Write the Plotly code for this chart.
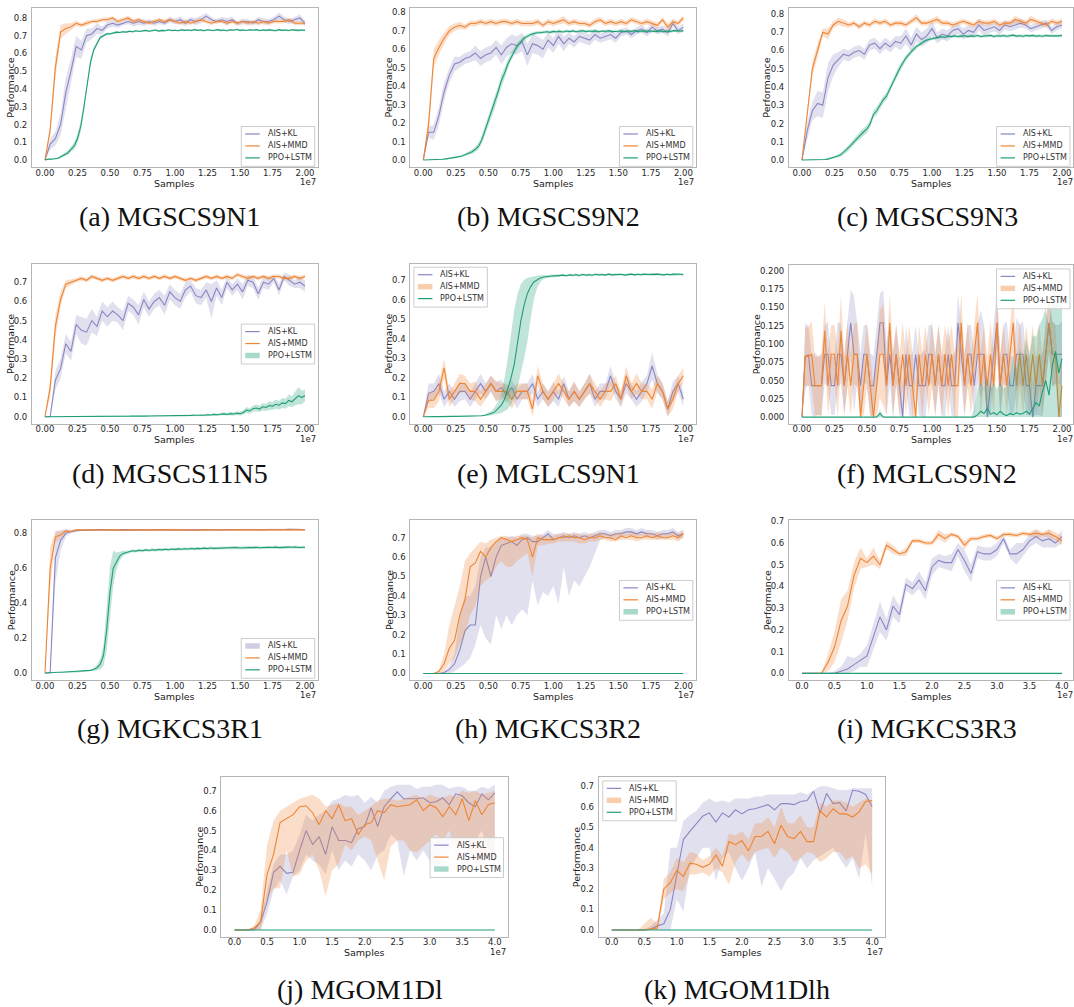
import plotly.graph_objects as go

W, H = 1074, 1007

# ---------------- sample grids ----------------
X20 = [i * 4e5 for i in range(51)]      # AIS runs, 0 .. 2e7
X20P = [i * 2.5e5 for i in range(81)]   # PPO runs, 0 .. 2e7
X20Z = [i * 5e5 for i in range(41)]
X40 = [i * 1e6 for i in range(41)]      # 0 .. 4e7

SERIES_NAMES = {"kl": "AIS+KL", "mmd": "AIS+MMD", "ppo": "PPO+LSTM"}
X20_TICKVALS = [0, 2.5e6, 5e6, 7.5e6, 1e7, 1.25e7, 1.5e7, 1.75e7, 2e7]
X20_TICKTEXT = ["0.00", "0.25", "0.50", "0.75", "1.00", "1.25", "1.50", "1.75", "2.00"]
X40_TICKVALS = [0, 5e6, 1e7, 1.5e7, 2e7, 2.5e7, 3e7, 3.5e7, 4e7]
X40_TICKTEXT = ["0.0", "0.5", "1.0", "1.5", "2.0", "2.5", "3.0", "3.5", "4.0"]
CAPTIONS = ["(a) MGSCS9N1", "(b) MGSCS9N2", "(c) MGSCS9N3", "(d) MGSCS11N5", "(e) MGLCS9N1",
            "(f) MGLCS9N2", "(g) MGKCS3R1", "(h) MGKCS3R2", "(i) MGKCS3R3", "(j) MGOM1Dl", "(k) MGOM1Dlh"]

# ---------------- (a) MGSCS9N1 ----------------
A_KL = [0.00,0.09,0.12,0.20,0.38,0.50,0.64,0.62,0.70,0.71,
        0.74,0.73,0.76,0.77,0.76,0.77,0.78,0.77,0.78,0.77,
        0.78,0.77,0.78,0.77,0.79,0.78,0.79,0.77,0.79,0.78,
        0.79,0.81,0.79,0.78,0.79,0.78,0.79,0.77,0.78,0.78,
        0.77,0.79,0.78,0.78,0.79,0.81,0.79,0.78,0.79,0.80,
        0.77]
A_KL_SD = [0.00,0.03,0.04,0.06,0.08,0.07,0.06,0.05,0.04,0.03,
           0.03,0.02,0.02,0.02,0.015,0.012,0.015,0.018,0.02,0.015,
           0.012,0.015,0.014,0.012,0.016,0.015,0.02,0.018,0.015,0.02,
           0.022,0.018,0.015,0.012,0.015,0.02,0.015,0.012,0.016,0.014,
           0.012,0.015,0.018,0.014,0.015,0.02,0.016,0.014,0.015,0.02,
           0.015]
A_MMD = [0.00,0.17,0.52,0.72,0.74,0.75,0.77,0.76,0.77,0.78,
         0.78,0.79,0.79,0.80,0.78,0.79,0.80,0.78,0.79,0.78,
         0.77,0.78,0.79,0.78,0.79,0.78,0.77,0.78,0.77,0.78,
         0.79,0.78,0.77,0.78,0.78,0.77,0.78,0.77,0.78,0.77,
         0.78,0.77,0.78,0.77,0.78,0.78,0.78,0.79,0.77,0.77,
         0.77]
A_MMD_SD = [0.00,0.03,0.06,0.04,0.03,0.02,0.015,0.012,0.015,0.01,
            0.012,0.01,0.012,0.01,0.012,0.01,0.012,0.015,0.01,0.012,
            0.01,0.012,0.01,0.012,0.01,0.012,0.01,0.012,0.01,0.012,
            0.01,0.012,0.01,0.012,0.01,0.012,0.01,0.012,0.01,0.012,
            0.01,0.012,0.01,0.012,0.01,0.012,0.01,0.012,0.01,0.012,
            0.01]
A_PPO = [0.000,0.005,0.005,0.008,0.010,0.020,0.030,0.040,0.060,0.080,
         0.120,0.190,0.300,0.440,0.550,0.620,0.660,0.690,0.700,0.710,
         0.710,0.715,0.720,0.718,0.722,0.720,0.725,0.722,0.728,0.724,
         0.726,0.730,0.725,0.728,0.732,0.726,0.730,0.728,0.733,0.729,
         0.731,0.728,0.733,0.730,0.732,0.729,0.734,0.730,0.732,0.728,
         0.733,0.731,0.729,0.734,0.730,0.732,0.728,0.733,0.731,0.735,
         0.730,0.732,0.729,0.733,0.731,0.734,0.729,0.732,0.730,0.733,
         0.731,0.728,0.734,0.730,0.732,0.729,0.733,0.731,0.730,0.732,
         0.730]
A_PPO_SD = [0.000,0.002,0.003,0.004,0.005,0.008,0.010,0.012,0.015,0.020,
            0.025,0.030,0.030,0.025,0.020,0.015,0.012,0.010,0.008,0.006,
            0.006,0.005,0.006,0.005,0.006,0.005,0.005,0.006,0.005,0.005,
            0.006,0.005,0.005,0.006,0.005,0.005,0.006,0.005,0.005,0.006,
            0.005,0.005,0.006,0.005,0.005,0.006,0.005,0.005,0.006,0.005,
            0.005,0.006,0.005,0.005,0.006,0.005,0.005,0.006,0.005,0.005,
            0.006,0.005,0.005,0.006,0.005,0.005,0.006,0.005,0.005,0.006,
            0.005,0.005,0.006,0.005,0.005,0.006,0.005,0.005,0.006,0.005,
            0.005]

# ---------------- (b) MGSCS9N2 ----------------
B_KL = [0.00,0.15,0.15,0.24,0.37,0.46,0.52,0.53,0.55,0.56,
        0.58,0.55,0.57,0.58,0.61,0.57,0.61,0.63,0.62,0.64,
        0.57,0.63,0.62,0.60,0.65,0.62,0.67,0.63,0.66,0.64,
        0.67,0.66,0.65,0.68,0.66,0.67,0.68,0.66,0.69,0.70,
        0.68,0.70,0.71,0.69,0.72,0.70,0.71,0.69,0.74,0.70,
        0.72]
B_KL_SD = [0.00,0.03,0.04,0.05,0.05,0.04,0.04,0.03,0.03,0.03,
           0.04,0.04,0.04,0.04,0.04,0.05,0.05,0.05,0.05,0.05,
           0.06,0.05,0.05,0.05,0.04,0.04,0.04,0.04,0.03,0.03,
           0.03,0.03,0.03,0.03,0.025,0.025,0.025,0.025,0.02,0.02,
           0.02,0.02,0.02,0.02,0.02,0.02,0.02,0.02,0.02,0.02,
           0.02]
B_MMD = [0.00,0.19,0.55,0.61,0.66,0.70,0.72,0.73,0.72,0.74,
         0.74,0.75,0.74,0.75,0.74,0.75,0.75,0.74,0.75,0.74,
         0.74,0.74,0.75,0.73,0.75,0.74,0.75,0.76,0.74,0.75,
         0.74,0.74,0.73,0.75,0.76,0.74,0.75,0.74,0.75,0.74,
         0.76,0.75,0.74,0.75,0.74,0.73,0.76,0.72,0.75,0.74,
         0.77]
B_MMD_SD = [0.00,0.05,0.05,0.04,0.03,0.025,0.02,0.02,0.015,0.015,
            0.015,0.015,0.015,0.015,0.015,0.015,0.015,0.015,0.015,0.015,
            0.015,0.015,0.015,0.015,0.015,0.015,0.015,0.02,0.015,0.015,
            0.015,0.015,0.015,0.015,0.015,0.015,0.015,0.015,0.015,0.015,
            0.015,0.015,0.015,0.015,0.015,0.015,0.015,0.02,0.015,0.015,
            0.015]
B_PPO = [0.000,0.000,0.000,0.001,0.002,0.003,0.004,0.006,0.008,0.010,
         0.013,0.018,0.022,0.030,0.038,0.045,0.058,0.075,0.110,0.160,
         0.210,0.260,0.310,0.370,0.430,0.470,0.520,0.560,0.590,0.620,
         0.640,0.660,0.670,0.680,0.685,0.690,0.690,0.693,0.695,0.692,
         0.697,0.695,0.698,0.694,0.699,0.696,0.700,0.695,0.698,0.701,
         0.696,0.699,0.697,0.700,0.695,0.699,0.697,0.701,0.696,0.699,
         0.698,0.700,0.695,0.699,0.697,0.701,0.696,0.699,0.698,0.700,
         0.696,0.699,0.697,0.700,0.695,0.699,0.697,0.701,0.698,0.699,
         0.700]
B_PPO_SD = [0.000,0.000,0.000,0.001,0.001,0.002,0.002,0.003,0.003,0.004,
            0.004,0.005,0.006,0.008,0.010,0.012,0.015,0.018,0.022,0.025,
            0.028,0.030,0.030,0.030,0.030,0.028,0.025,0.022,0.020,0.018,
            0.016,0.014,0.012,0.010,0.010,0.008,0.008,0.008,0.008,0.008,
            0.008,0.007,0.008,0.007,0.008,0.007,0.008,0.007,0.008,0.007,
            0.008,0.007,0.008,0.007,0.008,0.007,0.008,0.007,0.008,0.007,
            0.008,0.007,0.008,0.007,0.008,0.007,0.008,0.007,0.008,0.007,
            0.008,0.007,0.008,0.007,0.008,0.007,0.008,0.007,0.008,0.007,
            0.008]

# ---------------- (c) MGSCS9N3 ----------------
C_KL = [0.00,0.16,0.27,0.31,0.30,0.45,0.52,0.55,0.58,0.57,
        0.59,0.60,0.58,0.63,0.64,0.61,0.64,0.62,0.65,0.64,
        0.68,0.63,0.69,0.66,0.68,0.72,0.67,0.69,0.68,0.71,
        0.72,0.69,0.71,0.70,0.74,0.71,0.72,0.73,0.71,0.74,
        0.73,0.74,0.75,0.74,0.72,0.73,0.74,0.75,0.71,0.73,
        0.74]
C_KL_SD = [0.00,0.05,0.05,0.07,0.07,0.08,0.06,0.04,0.03,0.03,
           0.03,0.03,0.03,0.03,0.03,0.03,0.03,0.03,0.03,0.04,
           0.04,0.04,0.04,0.04,0.04,0.04,0.03,0.03,0.03,0.03,
           0.03,0.03,0.03,0.03,0.03,0.03,0.025,0.025,0.025,0.025,
           0.025,0.025,0.025,0.02,0.02,0.02,0.02,0.02,0.02,0.02,
           0.02]
C_MMD = [0.00,0.26,0.50,0.60,0.70,0.69,0.74,0.76,0.75,0.74,
         0.75,0.73,0.75,0.74,0.76,0.75,0.76,0.74,0.75,0.75,
         0.74,0.76,0.78,0.75,0.75,0.76,0.77,0.75,0.75,0.74,
         0.75,0.76,0.75,0.74,0.76,0.75,0.75,0.76,0.74,0.75,
         0.75,0.77,0.76,0.75,0.77,0.76,0.75,0.74,0.76,0.75,
         0.76]
C_MMD_SD = [0.00,0.03,0.04,0.04,0.02,0.03,0.02,0.02,0.02,0.015,
            0.015,0.015,0.015,0.015,0.015,0.015,0.015,0.015,0.015,0.015,
            0.015,0.015,0.02,0.015,0.015,0.015,0.02,0.015,0.015,0.015,
            0.015,0.015,0.015,0.015,0.015,0.015,0.015,0.015,0.015,0.015,
            0.015,0.02,0.015,0.015,0.02,0.015,0.015,0.015,0.015,0.015,
            0.015]
C_PPO = [0.000,0.000,0.000,0.000,0.000,0.001,0.002,0.003,0.005,0.010,
         0.015,0.022,0.030,0.045,0.060,0.080,0.100,0.120,0.140,0.155,
         0.170,0.200,0.250,0.270,0.300,0.330,0.350,0.390,0.430,0.460,
         0.500,0.530,0.560,0.580,0.600,0.620,0.630,0.645,0.655,0.660,
         0.665,0.668,0.672,0.675,0.673,0.678,0.676,0.680,0.677,0.679,
         0.681,0.676,0.680,0.678,0.682,0.677,0.680,0.679,0.683,0.677,
         0.681,0.679,0.682,0.678,0.680,0.684,0.679,0.681,0.678,0.682,
         0.680,0.683,0.679,0.681,0.678,0.682,0.680,0.679,0.681,0.680,
         0.682]
C_PPO_SD = [0.000,0.000,0.000,0.000,0.000,0.001,0.002,0.003,0.004,0.005,
            0.006,0.008,0.010,0.012,0.014,0.015,0.016,0.018,0.018,0.020,
            0.020,0.020,0.020,0.020,0.020,0.020,0.020,0.020,0.020,0.020,
            0.020,0.018,0.016,0.014,0.012,0.012,0.010,0.010,0.010,0.010,
            0.008,0.008,0.008,0.008,0.008,0.008,0.008,0.008,0.008,0.008,
            0.008,0.008,0.008,0.008,0.008,0.008,0.008,0.008,0.008,0.008,
            0.008,0.008,0.008,0.008,0.008,0.008,0.008,0.008,0.008,0.008,
            0.008,0.008,0.008,0.008,0.008,0.008,0.008,0.008,0.008,0.008,
            0.008]

# ---------------- (d) MGSCS11N5 ----------------
D_KL = [0.00,0.00,0.19,0.25,0.38,0.34,0.48,0.45,0.44,0.50,
        0.47,0.55,0.52,0.55,0.53,0.50,0.59,0.57,0.53,0.61,
        0.56,0.60,0.62,0.58,0.65,0.62,0.60,0.66,0.68,0.63,
        0.62,0.66,0.60,0.67,0.62,0.70,0.66,0.69,0.65,0.71,
        0.70,0.64,0.70,0.69,0.72,0.66,0.73,0.71,0.69,0.70,
        0.68]
D_KL_SD = [0.00,0.00,0.05,0.05,0.05,0.05,0.05,0.07,0.07,0.06,
           0.05,0.05,0.05,0.05,0.04,0.05,0.04,0.04,0.05,0.04,
           0.04,0.04,0.04,0.05,0.04,0.04,0.04,0.04,0.03,0.04,
           0.04,0.04,0.09,0.04,0.04,0.03,0.03,0.03,0.04,0.03,
           0.03,0.03,0.03,0.03,0.02,0.03,0.02,0.03,0.02,0.03,
           0.03]
D_MMD = [0.00,0.15,0.47,0.61,0.69,0.70,0.71,0.72,0.71,0.73,
         0.72,0.71,0.72,0.71,0.72,0.73,0.72,0.73,0.72,0.73,
         0.72,0.73,0.72,0.73,0.72,0.73,0.72,0.71,0.72,0.71,
         0.72,0.73,0.72,0.73,0.72,0.73,0.72,0.74,0.73,0.72,
         0.73,0.72,0.73,0.72,0.73,0.73,0.72,0.72,0.73,0.72,
         0.73]
D_MMD_SD = [0.00,0.05,0.06,0.04,0.02,0.015,0.01,0.012,0.01,0.012,
            0.01,0.012,0.01,0.012,0.01,0.012,0.01,0.012,0.01,0.012,
            0.01,0.012,0.01,0.012,0.01,0.012,0.01,0.012,0.01,0.012,
            0.01,0.012,0.01,0.012,0.01,0.012,0.01,0.012,0.01,0.012,
            0.01,0.012,0.01,0.012,0.01,0.012,0.01,0.012,0.01,0.012,
            0.01]
D_PPO = [0.000,0.000,0.000,0.000,0.000,0.001,0.001,0.001,0.001,0.001,
         0.002,0.002,0.002,0.002,0.002,0.002,0.003,0.002,0.003,0.002,
         0.003,0.003,0.002,0.003,0.003,0.003,0.003,0.004,0.003,0.004,
         0.004,0.003,0.004,0.004,0.005,0.004,0.005,0.004,0.005,0.005,
         0.006,0.005,0.006,0.007,0.006,0.007,0.008,0.007,0.009,0.008,
         0.010,0.009,0.012,0.010,0.013,0.015,0.012,0.016,0.014,0.018,
         0.016,0.022,0.035,0.030,0.042,0.045,0.040,0.052,0.048,0.058,
         0.055,0.065,0.060,0.072,0.068,0.085,0.078,0.095,0.110,0.100,
         0.110]
D_PPO_SD = [0.000,0.000,0.000,0.000,0.000,0.001,0.001,0.001,0.001,0.001,
            0.001,0.001,0.001,0.001,0.001,0.001,0.002,0.001,0.002,0.001,
            0.002,0.002,0.001,0.002,0.002,0.002,0.002,0.002,0.002,0.002,
            0.002,0.002,0.002,0.002,0.003,0.002,0.003,0.002,0.003,0.003,
            0.003,0.003,0.004,0.004,0.004,0.004,0.005,0.004,0.005,0.005,
            0.006,0.005,0.006,0.006,0.007,0.008,0.007,0.009,0.008,0.010,
            0.010,0.012,0.015,0.014,0.016,0.018,0.016,0.020,0.018,0.022,
            0.020,0.024,0.022,0.026,0.025,0.030,0.028,0.035,0.045,0.035,
            0.030]

# ---------------- (e) MGLCS9N1 ----------------
E_KL = [0.00,0.12,0.13,0.17,0.09,0.13,0.09,0.13,0.13,0.09,
        0.13,0.17,0.13,0.17,0.13,0.15,0.11,0.15,0.09,0.13,
        0.13,0.17,0.09,0.13,0.09,0.13,0.09,0.17,0.09,0.13,
        0.09,0.13,0.17,0.09,0.13,0.13,0.21,0.13,0.09,0.17,
        0.13,0.09,0.13,0.17,0.26,0.17,0.13,0.04,0.13,0.17,
        0.09]
E_KL_SD = [0.00,0.05,0.04,0.05,0.04,0.04,0.04,0.05,0.04,0.04,
           0.04,0.05,0.04,0.04,0.05,0.04,0.04,0.04,0.05,0.04,
           0.04,0.05,0.04,0.04,0.04,0.05,0.04,0.04,0.04,0.05,
           0.04,0.04,0.05,0.04,0.04,0.04,0.05,0.04,0.04,0.05,
           0.04,0.04,0.05,0.04,0.07,0.05,0.04,0.04,0.05,0.04,
           0.04]
E_MMD = [0.00,0.085,0.085,0.13,0.25,0.09,0.13,0.17,0.17,0.13,
         0.13,0.09,0.13,0.17,0.13,0.13,0.13,0.09,0.13,0.13,
         0.13,0.04,0.21,0.13,0.09,0.13,0.17,0.13,0.09,0.13,
         0.09,0.13,0.17,0.13,0.09,0.13,0.13,0.17,0.09,0.21,
         0.13,0.17,0.13,0.13,0.09,0.17,0.13,0.04,0.09,0.17,
         0.21]
E_MMD_SD = [0.00,0.04,0.04,0.05,0.05,0.04,0.04,0.05,0.04,0.04,
            0.05,0.04,0.04,0.04,0.05,0.04,0.04,0.05,0.04,0.04,
            0.04,0.05,0.05,0.04,0.04,0.04,0.05,0.04,0.04,0.05,
            0.04,0.04,0.05,0.04,0.04,0.04,0.05,0.04,0.04,0.05,
            0.04,0.05,0.04,0.04,0.05,0.04,0.04,0.04,0.05,0.04,
            0.04]
E_PPO = [0.000,0.001,0.001,0.001,0.001,0.001,0.002,0.002,0.002,0.002,
         0.002,0.002,0.003,0.003,0.003,0.003,0.004,0.004,0.005,0.008,
         0.012,0.018,0.025,0.040,0.060,0.090,0.140,0.200,0.270,0.380,
         0.490,0.570,0.630,0.665,0.690,0.700,0.710,0.715,0.718,0.720,
         0.722,0.721,0.723,0.725,0.722,0.726,0.724,0.727,0.723,0.728,
         0.725,0.727,0.724,0.729,0.726,0.728,0.725,0.730,0.726,0.728,
         0.727,0.729,0.725,0.728,0.730,0.726,0.729,0.727,0.730,0.728,
         0.729,0.727,0.730,0.728,0.726,0.729,0.727,0.730,0.728,0.729,
         0.728]
E_PPO_LO = [0.000,0.000,0.000,0.000,0.000,0.000,0.001,0.001,0.001,0.001,
            0.001,0.001,0.002,0.002,0.002,0.002,0.002,0.002,0.003,0.004,
            0.005,0.008,0.010,0.015,0.020,0.030,0.040,0.060,0.100,0.150,
            0.220,0.300,0.380,0.500,0.600,0.660,0.690,0.705,0.710,0.713,
            0.716,0.715,0.717,0.719,0.716,0.720,0.718,0.721,0.717,0.722,
            0.719,0.721,0.718,0.723,0.720,0.722,0.719,0.724,0.720,0.722,
            0.721,0.723,0.719,0.722,0.724,0.720,0.723,0.721,0.724,0.722,
            0.723,0.721,0.724,0.722,0.720,0.723,0.721,0.724,0.722,0.723,
            0.722]
E_PPO_HI = [0.000,0.002,0.002,0.002,0.002,0.002,0.003,0.003,0.003,0.003,
            0.003,0.003,0.004,0.004,0.004,0.005,0.006,0.006,0.008,0.012,
            0.020,0.030,0.050,0.080,0.120,0.200,0.300,0.420,0.550,0.630,
            0.680,0.700,0.710,0.715,0.720,0.722,0.724,0.724,0.725,0.726,
            0.728,0.727,0.729,0.731,0.728,0.732,0.730,0.733,0.729,0.734,
            0.731,0.733,0.730,0.735,0.732,0.734,0.731,0.736,0.732,0.734,
            0.733,0.735,0.731,0.734,0.736,0.732,0.735,0.733,0.736,0.734,
            0.735,0.733,0.736,0.734,0.732,0.735,0.733,0.736,0.734,0.735,
            0.734]

# ---------------- (f) MGLCS9N2 ----------------
F_KL = [0.000,0.083,0.085,0.043,0.043,0.043,0.043,0.086,0.086,0.043,
        0.043,0.086,0.086,0.043,0.086,0.129,0.086,0.086,0.043,0.086,
        0.086,0.043,0.043,0.086,0.129,0.129,0.043,0.086,0.043,0.086,
        0.043,0.000,0.086,0.043,0.043,0.086,0.043,0.043,0.043,0.086,
        0.086,0.043,0.086,0.043,0.043,0.086,0.043,0.043,0.129,0.086,
        0.043,0.086,0.086,0.043,0.086,0.086,0.086,0.000,0.043,0.086,
        0.129,0.043,0.086,0.086,0.043,0.043,0.086,0.086,0.086,0.043,
        0.043,0.000,0.043,0.043,0.043,0.086,0.129,0.086,0.086,0.086,
        0.086]
F_KL_SD = [0.000,0.045,0.040,0.040,0.045,0.040,0.040,0.040,0.045,0.040,
           0.040,0.045,0.040,0.040,0.045,0.045,0.080,0.040,0.045,0.040,
           0.040,0.045,0.040,0.040,0.040,0.045,0.060,0.040,0.045,0.040,
           0.040,0.045,0.040,0.040,0.045,0.040,0.040,0.045,0.050,0.040,
           0.040,0.045,0.040,0.040,0.045,0.040,0.040,0.045,0.040,0.040,
           0.045,0.040,0.040,0.045,0.040,0.060,0.040,0.045,0.040,0.040,
           0.045,0.040,0.040,0.045,0.040,0.040,0.050,0.040,0.045,0.040,
           0.040,0.045,0.040,0.040,0.045,0.040,0.040,0.045,0.040,0.040,
           0.045]
F_MMD = [0.000,0.083,0.083,0.086,0.043,0.043,0.043,0.118,0.043,0.086,
         0.086,0.043,0.118,0.043,0.086,0.043,0.086,0.086,0.000,0.043,
         0.086,0.043,0.000,0.043,0.086,0.086,0.043,0.129,0.043,0.086,
         0.043,0.086,0.043,0.086,0.043,0.000,0.086,0.043,0.086,0.043,
         0.086,0.043,0.086,0.043,0.086,0.043,0.086,0.043,0.043,0.129,
         0.043,0.086,0.043,0.086,0.129,0.043,0.086,0.043,0.086,0.043,
         0.129,0.043,0.086,0.043,0.086,0.129,0.043,0.086,0.043,0.086,
         0.043,0.086,0.043,0.086,0.043,0.086,0.129,0.086,0.086,0.000,
         0.043]
F_MMD_SD = [0.000,0.040,0.040,0.045,0.040,0.040,0.045,0.040,0.045,0.040,
            0.040,0.045,0.050,0.040,0.045,0.040,0.040,0.045,0.040,0.040,
            0.045,0.040,0.040,0.045,0.060,0.070,0.040,0.040,0.045,0.040,
            0.040,0.045,0.040,0.040,0.045,0.040,0.040,0.045,0.040,0.040,
            0.045,0.040,0.040,0.045,0.040,0.060,0.040,0.045,0.060,0.040,
            0.040,0.045,0.040,0.040,0.040,0.045,0.040,0.040,0.045,0.040,
            0.040,0.045,0.040,0.040,0.045,0.040,0.040,0.045,0.040,0.040,
            0.045,0.040,0.040,0.045,0.040,0.040,0.040,0.045,0.040,0.040,
            0.045]
F_PPO = [0.000,0.000,0.000,0.000,0.000,0.000,0.000,0.000,0.000,0.000,
         0.000,0.000,0.000,0.000,0.000,0.000,0.000,0.000,0.000,0.000,
         0.000,0.000,0.000,0.000,0.005,0.000,0.000,0.000,0.000,0.000,
         0.000,0.000,0.000,0.000,0.000,0.000,0.000,0.000,0.000,0.000,
         0.000,0.000,0.000,0.000,0.000,0.000,0.000,0.000,0.000,0.000,
         0.000,0.000,0.000,0.000,0.003,0.008,0.005,0.012,0.004,0.006,
         0.003,0.008,0.004,0.002,0.005,0.003,0.006,0.004,0.005,0.008,
         0.004,0.012,0.020,0.015,0.035,0.050,0.030,0.070,0.090,0.060,
         0.080]
F_PPO_SD = [0.000,0.000,0.000,0.000,0.000,0.000,0.000,0.000,0.000,0.000,
            0.000,0.000,0.000,0.000,0.000,0.000,0.000,0.000,0.000,0.000,
            0.000,0.000,0.000,0.000,0.005,0.000,0.000,0.000,0.000,0.000,
            0.000,0.000,0.000,0.000,0.000,0.000,0.000,0.000,0.000,0.000,
            0.000,0.000,0.000,0.000,0.000,0.000,0.000,0.000,0.000,0.000,
            0.000,0.000,0.000,0.010,0.035,0.040,0.035,0.040,0.035,0.040,
            0.035,0.040,0.035,0.040,0.050,0.080,0.060,0.090,0.070,0.100,
            0.080,0.100,0.090,0.110,0.100,0.100,0.090,0.100,0.100,0.090,
            0.100]

# ---------------- (g) MGKCS3R1 ----------------
G_KL = [0.00,0.00,0.66,0.76,0.80,0.81,0.815,0.818,0.82,0.82,
        0.821,0.82,0.82,0.819,0.82,0.821,0.82,0.82,0.822,0.82,
        0.82,0.821,0.82,0.82,0.822,0.821,0.82,0.82,0.821,0.822,
        0.82,0.821,0.82,0.822,0.82,0.821,0.82,0.82,0.821,0.822,
        0.82,0.821,0.82,0.822,0.821,0.82,0.822,0.823,0.821,0.822,
        0.821]
G_KL_SD = [0.00,0.01,0.15,0.06,0.02,0.01,0.006,0.004,0.004,0.004,
           0.004,0.004,0.004,0.004,0.004,0.004,0.004,0.004,0.004,0.004,
           0.004,0.004,0.004,0.004,0.004,0.004,0.004,0.004,0.004,0.004,
           0.004,0.004,0.004,0.004,0.004,0.004,0.004,0.004,0.004,0.004,
           0.004,0.004,0.004,0.004,0.004,0.004,0.004,0.004,0.004,0.004,
           0.004]
G_MMD = [0.00,0.60,0.78,0.79,0.815,0.81,0.82,0.819,0.818,0.82,
         0.82,0.819,0.82,0.821,0.82,0.818,0.82,0.819,0.82,0.82,
         0.819,0.82,0.818,0.82,0.821,0.82,0.819,0.82,0.82,0.818,
         0.82,0.819,0.82,0.821,0.82,0.819,0.82,0.82,0.818,0.82,
         0.819,0.82,0.82,0.821,0.82,0.819,0.82,0.82,0.821,0.82,
         0.82]
G_MMD_SD = [0.00,0.12,0.03,0.02,0.01,0.005,0.005,0.005,0.005,0.005,
            0.005,0.005,0.005,0.005,0.005,0.005,0.005,0.005,0.005,0.005,
            0.005,0.005,0.005,0.005,0.005,0.005,0.005,0.005,0.005,0.005,
            0.005,0.005,0.005,0.005,0.005,0.005,0.005,0.005,0.005,0.005,
            0.005,0.005,0.005,0.005,0.005,0.005,0.005,0.005,0.005,0.005,
            0.005]
G_PPO = [0.000,0.002,0.003,0.003,0.004,0.004,0.005,0.005,0.006,0.006,
         0.007,0.008,0.010,0.012,0.015,0.020,0.030,0.050,0.100,0.250,
         0.460,0.600,0.640,0.670,0.685,0.690,0.695,0.700,0.698,0.703,
         0.700,0.705,0.702,0.706,0.704,0.707,0.705,0.709,0.706,0.710,
         0.708,0.711,0.709,0.712,0.710,0.713,0.711,0.714,0.712,0.715,
         0.713,0.716,0.714,0.715,0.717,0.715,0.718,0.716,0.717,0.719,
         0.716,0.718,0.717,0.719,0.718,0.720,0.717,0.719,0.718,0.720,
         0.719,0.721,0.718,0.720,0.719,0.721,0.720,0.722,0.719,0.721,
         0.720]
G_PPO_SD = [0.000,0.001,0.002,0.002,0.002,0.002,0.003,0.003,0.003,0.003,
            0.004,0.004,0.004,0.005,0.005,0.008,0.015,0.030,0.060,0.120,
            0.150,0.100,0.050,0.025,0.015,0.010,0.008,0.008,0.008,0.008,
            0.008,0.008,0.008,0.008,0.008,0.008,0.008,0.008,0.008,0.008,
            0.008,0.008,0.008,0.008,0.008,0.008,0.008,0.008,0.008,0.008,
            0.008,0.008,0.008,0.008,0.008,0.008,0.008,0.008,0.008,0.008,
            0.008,0.008,0.008,0.008,0.008,0.008,0.008,0.008,0.008,0.008,
            0.008,0.008,0.008,0.008,0.008,0.008,0.008,0.008,0.008,0.008,
            0.008]

# ---------------- (h) MGKCS3R2 ----------------
H_KL = [0.00,0.00,0.00,0.00,0.005,0.02,0.05,0.12,0.22,0.25,
        0.25,0.50,0.60,0.50,0.60,0.66,0.67,0.68,0.66,0.69,
        0.70,0.68,0.68,0.70,0.72,0.69,0.70,0.71,0.70,0.71,
        0.70,0.71,0.70,0.71,0.72,0.72,0.71,0.72,0.72,0.73,
        0.73,0.72,0.73,0.72,0.72,0.71,0.72,0.72,0.73,0.71,
        0.72]
H_KL_LO = [0.00,0.00,0.00,0.00,0.00,0.00,0.01,0.03,0.05,0.08,
           0.15,0.25,0.18,0.15,0.30,0.23,0.30,0.25,0.30,0.33,
           0.30,0.48,0.35,0.42,0.40,0.45,0.36,0.55,0.40,0.48,
           0.45,0.50,0.55,0.62,0.69,0.70,0.69,0.70,0.70,0.71,
           0.71,0.70,0.71,0.70,0.70,0.69,0.70,0.70,0.71,0.69,
           0.70]
H_KL_HI = [0.00,0.00,0.00,0.00,0.01,0.04,0.10,0.30,0.40,0.40,
           0.45,0.60,0.65,0.65,0.68,0.70,0.70,0.71,0.70,0.72,
           0.72,0.71,0.71,0.72,0.74,0.72,0.72,0.73,0.72,0.73,
           0.72,0.73,0.72,0.73,0.74,0.74,0.73,0.74,0.74,0.75,
           0.75,0.74,0.75,0.74,0.74,0.73,0.74,0.74,0.75,0.73,
           0.74]
H_MMD = [0.00,0.00,0.00,0.01,0.05,0.13,0.17,0.30,0.38,0.55,
         0.57,0.63,0.60,0.65,0.68,0.70,0.69,0.68,0.69,0.70,
         0.69,0.60,0.70,0.69,0.69,0.69,0.70,0.70,0.71,0.70,
         0.70,0.69,0.70,0.70,0.71,0.70,0.70,0.69,0.71,0.70,
         0.71,0.70,0.70,0.71,0.70,0.71,0.70,0.70,0.71,0.70,
         0.72]
H_MMD_LO = [0.00,0.00,0.00,0.00,0.01,0.05,0.08,0.15,0.20,0.30,
            0.35,0.45,0.48,0.50,0.55,0.58,0.55,0.55,0.58,0.60,
            0.62,0.50,0.66,0.66,0.67,0.67,0.68,0.68,0.68,0.68,
            0.67,0.67,0.68,0.68,0.69,0.69,0.68,0.68,0.69,0.69,
            0.69,0.68,0.69,0.69,0.69,0.69,0.69,0.69,0.69,0.68,
            0.70]
H_MMD_HI = [0.00,0.00,0.00,0.02,0.10,0.25,0.35,0.45,0.58,0.62,
            0.65,0.68,0.67,0.69,0.70,0.71,0.71,0.70,0.71,0.71,
            0.71,0.70,0.72,0.71,0.71,0.71,0.72,0.72,0.72,0.72,
            0.72,0.71,0.72,0.72,0.73,0.72,0.72,0.72,0.73,0.72,
            0.73,0.72,0.72,0.73,0.72,0.73,0.72,0.72,0.73,0.72,
            0.74]
H_PPO = [0.0,0.0,0.0,0.0,0.0,0.0,0.0,0.0,0.0,0.0,
         0.0,0.0,0.0,0.0,0.0,0.0,0.0,0.0,0.0,0.0,
         0.0,0.0,0.0,0.0,0.0,0.0,0.0,0.0,0.0,0.0,
         0.0,0.0,0.0,0.0,0.0,0.0,0.0,0.0,0.0,0.0,
         0.0]

# ---------------- (i) MGKCS3R3 ----------------
I_KL = [0.00,0.00,0.00,0.00,0.00,0.00,0.01,0.02,0.04,0.06,
        0.08,0.17,0.26,0.20,0.31,0.27,0.41,0.39,0.43,0.38,
        0.49,0.52,0.51,0.51,0.57,0.52,0.46,0.56,0.55,0.55,
        0.57,0.62,0.55,0.55,0.57,0.61,0.63,0.61,0.62,0.60,
        0.63]
I_KL_SD = [0.00,0.00,0.00,0.00,0.00,0.01,0.02,0.06,0.03,0.03,
           0.05,0.06,0.07,0.05,0.05,0.04,0.03,0.03,0.04,0.04,
           0.04,0.03,0.03,0.04,0.03,0.05,0.04,0.03,0.03,0.03,
           0.03,0.02,0.02,0.05,0.03,0.03,0.03,0.03,0.04,0.02,
           0.03]
I_MMD = [0.00,0.00,0.00,0.00,0.05,0.12,0.24,0.31,0.45,0.53,
         0.51,0.54,0.50,0.59,0.57,0.55,0.56,0.61,0.61,0.60,
         0.60,0.64,0.62,0.64,0.63,0.59,0.62,0.62,0.63,0.635,
         0.62,0.64,0.64,0.635,0.645,0.64,0.645,0.64,0.645,0.63,
         0.61]
I_MMD_SD = [0.00,0.00,0.00,0.00,0.04,0.07,0.10,0.07,0.06,0.05,
            0.02,0.04,0.02,0.02,0.02,0.01,0.02,0.01,0.01,0.01,
            0.01,0.02,0.02,0.01,0.01,0.02,0.01,0.01,0.01,0.01,
            0.01,0.01,0.01,0.01,0.01,0.01,0.02,0.01,0.02,0.02,
            0.02]
I_PPO = [0.0,0.0,0.0,0.0,0.0,0.0,0.0,0.0,0.0,0.0,
         0.0,0.0,0.0,0.0,0.0,0.0,0.0,0.0,0.0,0.0,
         0.0,0.0,0.0,0.0,0.0,0.0,0.0,0.0,0.0,0.0,
         0.0,0.0,0.0,0.0,0.0,0.0,0.0,0.0,0.0,0.0,
         0.0]

# ---------------- (j) MGOM1Dl ----------------
J_KL = [0.00,0.00,0.00,0.00,0.04,0.14,0.29,0.32,0.285,0.29,
        0.40,0.50,0.43,0.47,0.38,0.52,0.45,0.45,0.44,0.51,
        0.52,0.615,0.52,0.62,0.66,0.695,0.66,0.66,0.66,0.665,
        0.64,0.645,0.665,0.63,0.685,0.675,0.64,0.62,0.685,0.655,
        0.69]
J_KL_LO = [0.00,0.00,0.00,0.00,0.00,0.08,0.20,0.25,0.18,0.27,
           0.30,0.38,0.35,0.33,0.28,0.40,0.30,0.35,0.32,0.38,
           0.35,0.30,0.38,0.40,0.48,0.45,0.27,0.40,0.35,0.40,
           0.35,0.30,0.35,0.40,0.45,0.40,0.30,0.45,0.50,0.40,
           0.35]
J_KL_HI = [0.00,0.00,0.00,0.00,0.06,0.20,0.33,0.38,0.38,0.40,
           0.48,0.58,0.55,0.58,0.60,0.65,0.66,0.68,0.67,0.68,
           0.64,0.67,0.64,0.70,0.72,0.73,0.73,0.73,0.71,0.72,
           0.72,0.73,0.73,0.71,0.72,0.72,0.70,0.70,0.72,0.71,
           0.73]
J_MMD = [0.00,0.00,0.00,0.01,0.04,0.28,0.38,0.54,0.56,0.58,
         0.62,0.625,0.59,0.53,0.60,0.56,0.63,0.55,0.56,0.48,
         0.53,0.54,0.60,0.59,0.63,0.62,0.625,0.63,0.655,0.60,
         0.63,0.615,0.57,0.62,0.58,0.66,0.55,0.65,0.58,0.63,
         0.64]
J_MMD_LO = [0.00,0.00,0.00,0.00,0.00,0.15,0.21,0.21,0.40,0.27,
            0.28,0.35,0.38,0.30,0.17,0.30,0.33,0.43,0.40,0.45,
            0.47,0.45,0.35,0.25,0.42,0.45,0.45,0.40,0.39,0.42,
            0.45,0.48,0.45,0.50,0.40,0.45,0.38,0.35,0.29,0.42,
            0.30]
J_MMD_HI = [0.00,0.00,0.00,0.02,0.10,0.43,0.55,0.60,0.62,0.64,
            0.66,0.67,0.68,0.66,0.62,0.63,0.64,0.62,0.62,0.58,
            0.60,0.62,0.65,0.66,0.66,0.65,0.66,0.67,0.68,0.66,
            0.68,0.67,0.66,0.68,0.67,0.70,0.69,0.70,0.68,0.69,
            0.70]
J_PPO = [0.0,0.0,0.0,0.0,0.0,0.0,0.0,0.0,0.0,0.0,
         0.0,0.0,0.0,0.0,0.0,0.0,0.0,0.0,0.0,0.0,
         0.0,0.0,0.0,0.0,0.0,0.0,0.0,0.0,0.0,0.0,
         0.0,0.0,0.0,0.0,0.0,0.0,0.0,0.0,0.0,0.0,
         0.0]

# ---------------- (k) MGOM1Dlh ----------------
K_KL = [0.00,0.00,0.00,0.00,0.00,0.00,0.005,0.02,0.03,0.10,
        0.27,0.44,0.48,0.52,0.555,0.57,0.525,0.57,0.55,0.585,
        0.565,0.585,0.59,0.60,0.61,0.585,0.615,0.615,0.61,0.625,
        0.63,0.675,0.57,0.665,0.615,0.62,0.58,0.68,0.675,0.66,
        0.60]
K_KL_LO = [0.00,0.00,0.00,0.00,0.00,0.00,0.00,0.00,0.00,0.00,
           0.15,0.09,0.30,0.35,0.40,0.40,0.24,0.35,0.38,0.30,
           0.24,0.30,0.38,0.21,0.30,0.25,0.19,0.25,0.28,0.35,
           0.30,0.34,0.36,0.38,0.40,0.35,0.30,0.35,0.25,0.47,
           0.21]
K_KL_HI = [0.00,0.00,0.00,0.00,0.00,0.005,0.02,0.05,0.08,0.40,
           0.40,0.53,0.56,0.58,0.62,0.64,0.62,0.63,0.62,0.64,
           0.64,0.64,0.65,0.65,0.66,0.66,0.66,0.66,0.66,0.67,
           0.66,0.68,0.70,0.70,0.69,0.68,0.68,0.69,0.69,0.69,
           0.69]
K_MMD = [0.00,0.00,0.00,0.00,0.00,0.00,0.005,0.01,0.20,0.23,
         0.29,0.26,0.325,0.32,0.305,0.32,0.365,0.31,0.43,0.415,
         0.435,0.385,0.455,0.455,0.48,0.42,0.51,0.455,0.445,0.48,
         0.43,0.43,0.58,0.55,0.59,0.565,0.565,0.55,0.575,0.625,
         0.63]
K_MMD_LO = [0.00,0.00,0.00,0.00,0.00,0.00,0.00,0.00,0.15,0.18,
            0.20,0.19,0.27,0.27,0.28,0.26,0.30,0.28,0.22,0.33,
            0.37,0.33,0.38,0.39,0.40,0.35,0.40,0.38,0.33,0.35,
            0.38,0.37,0.33,0.35,0.38,0.38,0.34,0.36,0.30,0.32,
            0.27]
K_MMD_HI = [0.00,0.00,0.00,0.00,0.00,0.03,0.06,0.03,0.25,0.28,
            0.35,0.33,0.38,0.37,0.34,0.36,0.40,0.36,0.47,0.46,
            0.48,0.44,0.52,0.52,0.55,0.50,0.60,0.52,0.52,0.56,
            0.50,0.50,0.62,0.60,0.63,0.63,0.62,0.60,0.62,0.64,
            0.63]
K_PPO = [0.0,0.0,0.0,0.0,0.0,0.0,0.0,0.0,0.0,0.0,
         0.0,0.0,0.0,0.0,0.0,0.0,0.0,0.0,0.0,0.0,
         0.0,0.0,0.0,0.0,0.0,0.0,0.0,0.0,0.0,0.0,
         0.0,0.0,0.0,0.0,0.0,0.0,0.0,0.0,0.0,0.0,
         0.0]

# ---------------- styling ----------------
LINE = {"kl": "#8a86c4", "mmd": "#ee8533", "ppo": "#1f9e78"}
BAND = {"kl": "rgba(117,112,179,0.22)", "mmd": "rgba(240,138,60,0.28)", "ppo": "rgba(27,158,119,0.28)"}
BAND_LEG = {"kl": "rgba(117,112,179,0.35)", "mmd": "rgba(240,138,60,0.42)", "ppo": "rgba(27,158,119,0.38)"}
TICKFONT = dict(family="DejaVu Sans", size=8.5, color="#262626")
LABFONT = dict(family="DejaVu Sans", size=9.5, color="#222")
LEGFONT = dict(family="DejaVu Sans", size=8, color="#333")
FRAME = "#b5b5b5"
LEG_W, LEG_H = 73.5, 40.0
LEG_ROWS = [7.5, 19.5, 31.5]

# box = (left, right, top, bottom) in px ; leg = (x px, y px, xanchor, yanchor)
PANELS = [
    dict(box=(32, 318.3, 4, 164), xs=20, yr=(-0.041, 0.856), dt=0.1, fmt=".1f", yt=21,
         leg=(315, 163, "right", "bottom"), hb=(), cap=(170, 213),
         ser=[("kl", X20, A_KL, A_KL_SD, None, None), ("mmd", X20, A_MMD, A_MMD_SD, None, None),
              ("ppo", X20P, A_PPO, A_PPO_SD, None, None)]),
    dict(box=(410.7, 697, 4, 164), xs=20, yr=(-0.04, 0.824), dt=0.1, fmt=".1f", yt=21.5,
         leg=(693.5, 163, "right", "bottom"), hb=(), cap=(549, 213),
         ser=[("kl", X20, B_KL, B_KL_SD, None, None), ("mmd", X20, B_MMD, B_MMD_SD, None, None),
              ("ppo", X20P, B_PPO, B_PPO_SD, None, None)]),
    dict(box=(789.7, 1076, 4, 164), xs=20, yr=(-0.04, 0.833), dt=0.1, fmt=".1f", yt=22,
         leg=(1071, 163, "right", "bottom"), hb=(), cap=(928, 213),
         ser=[("kl", X20, C_KL, C_KL_SD, None, None), ("mmd", X20, C_MMD, C_MMD_SD, None, None),
              ("ppo", X20P, C_PPO, C_PPO_SD, None, None)]),
    dict(box=(32, 318.3, 261, 421.7), xs=20, yr=(-0.038, 0.795), dt=0.1, fmt=".1f", yt=21,
         leg=(315, 341.4, "right", "middle"), hb=("ppo",), cap=(170, 471),
         ser=[("kl", X20, D_KL, D_KL_SD, None, None), ("mmd", X20, D_MMD, D_MMD_SD, None, None),
              ("ppo", X20P, D_PPO, D_PPO_SD, None, None)]),
    dict(box=(410.7, 697, 261, 421.7), xs=20, yr=(-0.037, 0.782), dt=0.1, fmt=".1f", yt=21.5,
         leg=(414.3, 264.3, "left", "top"), hb=("mmd",), cap=(549, 471),
         ser=[("kl", X20, E_KL, E_KL_SD, None, None), ("mmd", X20, E_MMD, E_MMD_SD, None, None),
              ("ppo", X20P, E_PPO, None, E_PPO_LO, E_PPO_HI)]),
    dict(box=(789.7, 1076, 261.7, 421.7), xs=20, yr=(-0.0095, 0.2085), dt=0.025, fmt=".3f", yt=33,
         leg=(1071, 266, "right", "top"), hb=("mmd",), cap=(928, 471),
         ser=[("kl", X20P, F_KL, F_KL_SD, None, None), ("mmd", X20P, F_MMD, F_MMD_SD, None, None),
              ("ppo", X20P, F_PPO, F_PPO_SD, None, None)]),
    dict(box=(32, 318.3, 518.3, 679), xs=20, yr=(-0.042, 0.875), dt=0.2, fmt=".1f", yt=21,
         leg=(315, 677, "right", "bottom"), hb=("kl",), cap=(170, 727),
         ser=[("kl", X20, G_KL, G_KL_SD, None, None), ("mmd", X20, G_MMD, G_MMD_SD, None, None),
              ("ppo", X20P, G_PPO, G_PPO_SD, None, None)]),
    dict(box=(410.7, 697, 518.3, 679), xs=20, yr=(-0.035, 0.79), dt=0.1, fmt=".1f", yt=21.5,
         leg=(693.5, 598.7, "right", "middle"), hb=("ppo",), cap=(549, 727),
         ser=[("kl", X20, H_KL, None, H_KL_LO, H_KL_HI), ("mmd", X20, H_MMD, None, H_MMD_LO, H_MMD_HI),
              ("ppo", X20Z, H_PPO, None, H_PPO, H_PPO)]),
    dict(box=(789.7, 1076, 518.3, 679), xs=40, yr=(-0.032, 0.705), dt=0.1, fmt=".1f", yt=22,
         leg=(1071, 598.7, "right", "middle"), hb=("ppo",), cap=(928, 727),
         ser=[("kl", X40, I_KL, I_KL_SD, None, None), ("mmd", X40, I_MMD, I_MMD_SD, None, None),
              ("ppo", X40, I_PPO, None, I_PPO, I_PPO)]),
    dict(box=(221.7, 508.3, 776, 936.7), xs=40, yr=(-0.035, 0.77), dt=0.1, fmt=".1f", yt=21.5,
         leg=(504, 857, "right", "middle"), hb=("ppo",), cap=(360, 989),
         ser=[("kl", X40, J_KL, None, J_KL_LO, J_KL_HI), ("mmd", X40, J_MMD, None, J_MMD_LO, J_MMD_HI),
              ("ppo", X40, J_PPO, None, J_PPO, J_PPO)]),
    dict(box=(599.3, 886, 776, 936.7), xs=40, yr=(-0.034, 0.745), dt=0.1, fmt=".1f", yt=21.5,
         leg=(603.3, 780, "left", "top"), hb=("mmd",), cap=(738, 989),
         ser=[("kl", X40, K_KL, None, K_KL_LO, K_KL_HI), ("mmd", X40, K_MMD, None, K_MMD_LO, K_MMD_HI),
              ("ppo", X40, K_PPO, None, K_PPO, K_PPO)]),
]


def bounds(mean, sd, lo, hi):
    if sd is not None:
        lo = [max(m - s, 0.0) for m, s in zip(mean, sd)]
        hi = [m + s for m, s in zip(mean, sd)]
    return lo, hi


def px(x):
    return x / W


def py(y):
    return 1 - y / H


fig = go.Figure()
annotations = []
shapes = []
layout = {}

for i, p in enumerate(PANELS, start=1):
    sfx = "" if i == 1 else str(i)
    xa, ya = "x" + sfx, "y" + sfx
    left, right, top, bottom = p["box"]
    vis_right = min(right, W)
    if p["xs"] == 20:
        xr = (-1e6, 2.1e7)
        tv, tt = X20_TICKVALS, X20_TICKTEXT
    else:
        xr = (-2e6, 4.2e7)
        tv, tt = X40_TICKVALS, X40_TICKTEXT
    xr1 = xr[0] + (xr[1] - xr[0]) * (vis_right - left) / (right - left)

    for key, x, mean, sd, lo, hi in p["ser"]:
        lo, hi = bounds(mean, sd, lo, hi)
        n = min(len(x), len(mean), len(lo), len(hi))
        xs, ms, los, his = list(x[:n]), list(mean[:n]), list(lo[:n]), list(hi[:n])
        fig.add_trace(go.Scatter(
            x=xs + xs[::-1], y=his + los[::-1], fill="toself", fillcolor=BAND[key],
            line=dict(width=0), mode="lines", hoverinfo="skip", showlegend=False,
            xaxis=xa, yaxis=ya))
        fig.add_trace(go.Scatter(
            x=xs, y=ms, mode="lines", line=dict(color=LINE[key], width=1.1),
            name=SERIES_NAMES[key], showlegend=False, xaxis=xa, yaxis=ya))

    layout["xaxis" + sfx] = dict(
        domain=[px(left), px(vis_right)], range=[xr[0], xr1], anchor=ya,
        tickmode="array", tickvals=tv, ticktext=tt, ticks="", tickfont=TICKFONT,
        ticklabelstandoff=-3,
        showline=True, mirror=True, linecolor=FRAME, linewidth=1, showgrid=False, zeroline=False)
    layout["yaxis" + sfx] = dict(
        domain=[py(bottom), py(top)], range=list(p["yr"]), anchor=xa,
        tickmode="linear", tick0=0, dtick=p["dt"], tickformat=p["fmt"], ticks="",
        tickfont=TICKFONT, ticklabelstandoff=2,
        showline=True, mirror=True, linecolor=FRAME, linewidth=1, showgrid=False, zeroline=False)

    # ---- legend box (matplotlib-style, compact) ----
    lx, ly, lxa, lya = p["leg"]
    bl = lx if lxa == "left" else lx - LEG_W
    if lya == "top":
        bt = ly
    elif lya == "bottom":
        bt = ly - LEG_H
    else:
        bt = ly - LEG_H / 2
    shapes.append(dict(type="rect", xref="paper", yref="paper", x0=px(bl), x1=px(bl + LEG_W),
                       y0=py(bt + LEG_H), y1=py(bt), fillcolor="rgba(255,255,255,0.85)",
                       line=dict(color="#cccccc", width=1), layer="above"))
    for row, (key, *_rest) in enumerate(p["ser"]):
        yy = bt + LEG_ROWS[row]
        if key in p["hb"]:
            shapes.append(dict(type="line", xref="paper", yref="paper", x0=px(bl + 4), x1=px(bl + 18.5),
                               y0=py(yy), y1=py(yy), line=dict(color=BAND_LEG[key], width=5.5),
                               layer="above"))
        else:
            shapes.append(dict(type="line", xref="paper", yref="paper", x0=px(bl + 4), x1=px(bl + 18.5),
                               y0=py(yy), y1=py(yy), line=dict(color=LINE[key], width=1.2),
                               layer="above"))
        annotations.append(dict(text=SERIES_NAMES[key], x=px(bl + 24.5), y=py(yy), xref="paper",
                                yref="paper", showarrow=False, xanchor="left", yanchor="middle",
                                font=LEGFONT))

    annotations.append(dict(text="Samples", x=px((left + right) / 2), y=py(bottom + 16),
                            xref="paper", yref="paper", showarrow=False, xanchor="center",
                            yanchor="middle", font=LABFONT))
    annotations.append(dict(text="Performance", x=px(left - p["yt"]), y=py((top + bottom) / 2),
                            xref="paper", yref="paper", showarrow=False, textangle=-90,
                            xanchor="center", yanchor="middle", font=LABFONT))
    annotations.append(dict(text="1e7", x=px(right), y=py(bottom + 15), xref="paper",
                            yref="paper", showarrow=False, xanchor="right", yanchor="middle",
                            font=TICKFONT))
    annotations.append(dict(text=CAPTIONS[i - 1], x=px(p["cap"][0]), y=py(p["cap"][1]),
                            xref="paper", yref="paper", showarrow=False, xanchor="center",
                            yanchor="middle",
                            font=dict(family="Liberation Serif", size=28, color="#111")))

fig.update_layout(
    width=W, height=H, autosize=False, margin=dict(l=0, r=0, t=0, b=0),
    paper_bgcolor="white", plot_bgcolor="white", hovermode=False, showlegend=False,
    annotations=annotations, shapes=shapes, **layout)

fig.write_html("out.html", config={"displayModeBar": False, "staticPlot": True},
               post_script="document.body.style.margin='0px';"
                           "document.body.style.padding='0px';"
                           "document.body.style.overflow='hidden';")
